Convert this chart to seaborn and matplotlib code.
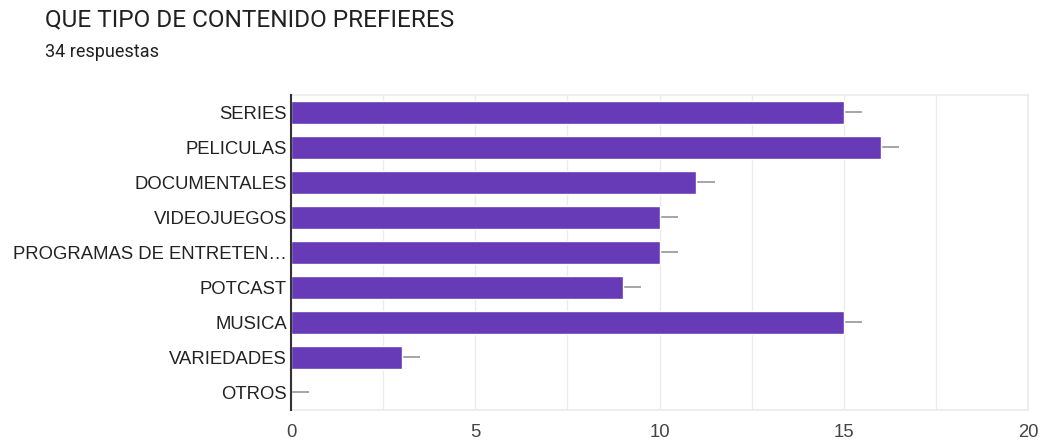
import numpy as np
import pandas as pd
import seaborn as sns
import matplotlib.pyplot as plt

categories = ["SERIES", "PELICULAS", "DOCUMENTALES", "VIDEOJUEGOS",
              "PROGRAMAS DE ENTRETEN…", "POTCAST", "MUSICA", "VARIEDADES", "OTROS"]
counts = [15, 16, 11, 10, 10, 9, 15, 3, 0]
x_ticks = [0, 5, 10, 15, 20]

title = "QUE TIPO DE CONTENIDO PREFIERES"
subtitle = "34 respuestas"

df = pd.DataFrame({"categoria": categories, "respuestas": counts})

sns.set_style("white")
plt.rcParams['font.family'] = ['Liberation Sans', 'DejaVu Sans']

fig = plt.figure(figsize=(10.4, 4.43), dpi=100)
ax = fig.add_axes([0.2798, 0.0745, 0.7087, 0.7111])

sns.barplot(data=df, x="respuestas", y="categoria", ax=ax, color="#673ab7",
            saturation=1, width=0.63, errorbar=None, orient="h", zorder=3)

# short grey stub to the right of each bar
ax.hlines(y=np.arange(len(counts)), xmin=df["respuestas"], xmax=df["respuestas"] + 0.5,
          color="#9e9e9e", linewidth=1.3, zorder=2)

ax.set_xlim(0, 20)
ax.set_ylim(len(categories) - 0.5, -0.5)
ax.set_xticks(x_ticks)
ax.set_xticks(np.arange(0, 20.1, 2.5), minor=True)
ax.grid(axis="x", which="both", color="#ececec", linewidth=1, zorder=0)
ax.set_xlabel("")
ax.set_ylabel("")
ax.tick_params(axis="both", which="both", length=0, labelsize=13.3, colors="#222222")
ax.tick_params(axis="x", pad=10, labelcolor="#444444")
ax.tick_params(axis="y", pad=3)

for side in ["top", "right", "bottom"]:
    ax.spines[side].set_color("#ebebeb")
    ax.spines[side].set_linewidth(1.2)
ax.spines["left"].set_color("#333333")
ax.spines["left"].set_linewidth(1.5)
ax.spines["left"].set_zorder(4)

fig.text(0.043, 0.955, title, fontsize=17.6, color="#212121", family=["Roboto", "DejaVu Sans"],
         va="center")
fig.text(0.043, 0.882, subtitle, fontsize=13, color="#212121", family=["Roboto", "DejaVu Sans"],
         va="center")

fig.savefig("out.png", dpi=100)
plt.close()
